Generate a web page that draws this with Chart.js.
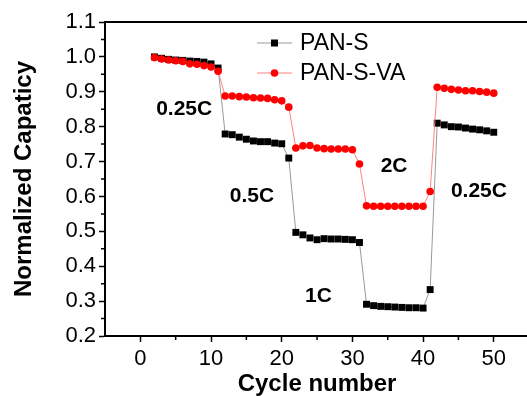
<!DOCTYPE html>
<html>
<head>
<meta charset="utf-8">
<script src="https://cdn.jsdelivr.net/npm/chart.js@4/dist/chart.umd.min.js"></script>
<style>
  html, body { margin: 0; padding: 0; background: #fff; overflow: hidden; width: 527px; height: 396px; }
  #wrap { position: absolute; left: 0; top: 0; width: 534px; height: 396px; }
</style>
</head>
<body>
<div id="wrap"><canvas id="c" width="534" height="396"></canvas></div>
<script>
// ---- data ----
const cycles = [2,3,4,5,6,7,8,9,10,11,12,13,14,15,16,17,18,19,20,21,22,23,24,25,26,27,28,29,30,31,32,33,34,35,36,37,38,39,40,41,42,43,44,45,46,47,48,49,50];
const panS = [
  1.000, 0.996, 0.993, 0.991, 0.990, 0.988, 0.987, 0.985, 0.980, 0.968,
  0.779, 0.777, 0.770, 0.764, 0.759, 0.757, 0.757, 0.753, 0.751, 0.710,
  0.497, 0.490, 0.481, 0.476, 0.479, 0.478, 0.478, 0.477, 0.476, 0.468,
  0.291, 0.287, 0.285, 0.284, 0.283, 0.282, 0.281, 0.281, 0.280, 0.333,
  0.810, 0.805, 0.800, 0.799, 0.796, 0.793, 0.791, 0.788, 0.784
];
const panSVA = [
  0.998, 0.994, 0.991, 0.989, 0.987, 0.980, 0.979, 0.975, 0.971, 0.959,
  0.888, 0.888, 0.886, 0.885, 0.883, 0.882, 0.881, 0.877, 0.874, 0.856,
  0.739, 0.745, 0.746, 0.739, 0.737, 0.736, 0.736, 0.736, 0.734, 0.693,
  0.573, 0.572, 0.572, 0.572, 0.572, 0.572, 0.572, 0.572, 0.572, 0.614,
  0.913, 0.910, 0.907, 0.905, 0.903, 0.903, 0.901, 0.899, 0.896
];
const seriesNames = ['PAN-S', 'PAN-S-VA'];
const xTicks = [0, 10, 20, 30, 40, 50];
const xMinorTicks = [5, 15, 25, 35, 45];
const yTicks = [0.2, 0.3, 0.4, 0.5, 0.6, 0.7, 0.8, 0.9, 1.0, 1.1];
const yMinorTicks = [0.25, 0.35, 0.45, 0.55, 0.65, 0.75, 0.85, 0.95, 1.05];
const rateLabels = ['0.25C', '0.5C', '1C', '2C', '0.25C'];
const rateLabelX = [6.2, 15.8, 25.2, 35.9, 47.9];
const rateLabelY = [0.851, 0.601, 0.315, 0.687, 0.616];

const FONT = '"Liberation Sans", Arial, sans-serif';

const toPts = (ys) => cycles.map((c, i) => ({ x: c, y: ys[i] }));

const extras = {
  id: 'extras',
  afterDraw(chart) {
    const ctx = chart.ctx;
    const a = chart.chartArea;
    const xs = chart.scales.x, ys = chart.scales.y;
    ctx.save();
    // top frame line
    ctx.strokeStyle = '#000';
    ctx.lineWidth = 2;
    ctx.beginPath();
    ctx.moveTo(a.left - 1, a.top);
    ctx.lineTo(a.right + 1, a.top);
    ctx.stroke();
    // minor ticks
    ctx.lineWidth = 1.5;
    ctx.beginPath();
    xMinorTicks.forEach(v => {
      const px = xs.getPixelForValue(v);
      ctx.moveTo(px, a.bottom); ctx.lineTo(px, a.bottom + 4);
    });
    yMinorTicks.forEach(v => {
      const py = ys.getPixelForValue(v);
      ctx.moveTo(a.left, py); ctx.lineTo(a.left - 4, py);
    });
    ctx.stroke();
    // rate annotations
    ctx.fillStyle = '#000';
    ctx.font = 'bold 21px ' + FONT;
    ctx.textAlign = 'center';
    ctx.textBaseline = 'middle';
    rateLabels.forEach((t, i) => {
      ctx.fillText(t, xs.getPixelForValue(rateLabelX[i]), ys.getPixelForValue(rateLabelY[i]));
    });
    // legend
    const lx0 = a.left + 152, lx1 = a.left + 187, tx = a.left + 195;
    const rows = [a.top + 21, a.top + 51];
    const lineCols = ['#999999', '#ff8080'];
    ctx.font = '23px ' + FONT;
    ctx.textAlign = 'left';
    rows.forEach((ry, i) => {
      ctx.strokeStyle = lineCols[i];
      ctx.lineWidth = 1;
      ctx.beginPath(); ctx.moveTo(lx0, ry); ctx.lineTo(lx1, ry); ctx.stroke();
      const mx = (lx0 + lx1) / 2;
      if (i === 0) {
        ctx.fillStyle = '#000';
        ctx.fillRect(mx - 3.5, ry - 3.5, 7, 7);
      } else {
        ctx.fillStyle = '#ff0000';
        ctx.beginPath(); ctx.arc(mx, ry, 3.8, 0, Math.PI * 2); ctx.fill();
      }
      ctx.fillStyle = '#000';
      ctx.fillText(seriesNames[i], tx, ry + 1);
    });
    ctx.restore();
  }
};

new Chart(document.getElementById('c'), {
  type: 'line',
  data: {
    datasets: [
      {
        label: seriesNames[1], data: toPts(panSVA), order: 0,
        borderColor: '#ff8080', borderWidth: 1,
        pointStyle: 'circle', pointRadius: 3.8, pointBackgroundColor: '#ff0000',
        pointBorderColor: '#ff0000', pointBorderWidth: 0, tension: 0
      },
      {
        label: seriesNames[0], data: toPts(panS), order: 1,
        borderColor: '#999999', borderWidth: 1,
        pointStyle: 'rect', pointRadius: 4.9, pointBackgroundColor: '#000',
        pointBorderColor: '#000', pointBorderWidth: 0, tension: 0
      }
    ]
  },
  options: {
    responsive: false,
    animation: false,
    devicePixelRatio: 1,
    layout: { padding: { top: 22, right: 4, left: 0, bottom: 0 } },
    plugins: { legend: { display: false }, tooltip: { enabled: false } },
    scales: {
      x: {
        type: 'linear', min: -5, max: 55,
        afterBuildTicks: (s) => { s.ticks = xTicks.map(v => ({ value: v })); },
        afterFit: (s) => { s.height = 60; },
        grid: { drawOnChartArea: false, drawTicks: true, tickLength: 6, tickColor: '#000', tickWidth: 1.5 },
        border: { display: true, color: '#000', width: 2 },
        ticks: { color: '#000', padding: 4, maxRotation: 0, font: { family: FONT, size: 22 },
                 callback: (v) => String(v) },
        title: { display: true, text: 'Cycle number', color: '#000', padding: 0,
                 font: { family: FONT, size: 24, weight: 'bold', lineHeight: 1 } }
      },
      y: {
        type: 'linear', min: 0.2, max: 1.1,
        afterBuildTicks: (s) => { s.ticks = yTicks.map(v => ({ value: v })); },
        afterFit: (s) => { s.width = 105; },
        grid: { drawOnChartArea: false, drawTicks: true, tickLength: 6, tickColor: '#000', tickWidth: 1.5 },
        border: { display: true, color: '#000', width: 2 },
        ticks: { color: '#000', padding: 3, font: { family: FONT, size: 22 },
                 callback: (v) => Number(v).toFixed(1) },
        title: { display: true, text: 'Normalized Capaticy', color: '#000', padding: { top: 12 },
                 font: { family: FONT, size: 24, weight: 'bold', lineHeight: 1 } }
      }
    }
  },
  plugins: [extras]
});
</script>
</body>
</html>
